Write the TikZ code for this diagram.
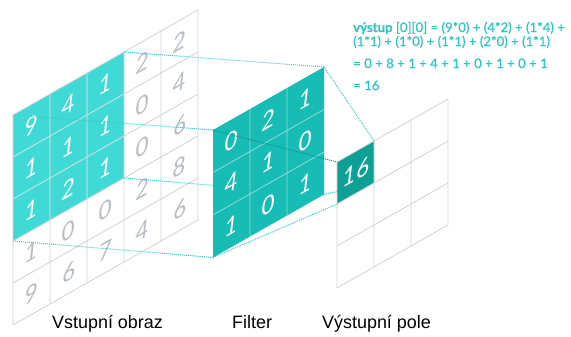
\documentclass[tikz,border=0pt]{standalone}
\usepackage{fontspec}
\setmainfont{Liberation Sans}
\newfontfamily\numfont{Lato}
\newfontfamily\formfont[FakeBold=0.6]{Lato}
\definecolor{inteal}{HTML}{3FDAD5}
\definecolor{filteal}{HTML}{17BDB5}
\definecolor{outteal}{HTML}{0E9F95}
\definecolor{gridgrey}{HTML}{CED3D8}
\definecolor{digitgrey}{HTML}{B8BEC4}
\definecolor{dotteal}{HTML}{3CCBCB}
\definecolor{dotdark}{HTML}{0E8F88}
\definecolor{txtteal}{HTML}{2EC6C0}
\definecolor{filline}{HTML}{8ADCD6}
\definecolor{inline}{HTML}{A8E6E3}
\tikzset{
  gridline/.style={draw=gridgrey, line width=0.8bp},
  filgrid/.style={draw=filline, line width=0.8bp},
  ingrid/.style={draw=inline, line width=0.8bp},
  dots/.style={draw=dotteal, densely dotted, line width=1bp},
  digit/.style={font=\numfont\itshape\fontsize{24}{24}\selectfont, inner sep=0pt},
  formula/.style={font=\formfont\fontsize{13.2}{15}\selectfont, text=txtteal, anchor=base west, inner sep=0pt},
  caption/.style={font=\fontsize{18}{20}\selectfont, anchor=base west, inner sep=0pt}
}
\begin{document}
\begin{tikzpicture}[x=1bp,y=1bp]
\useasboundingbox (0,0) rectangle (571,336);
% ---------- input image ----------
\begin{scope}[shift={(13,221)}, yslant=0.5676, transform shape]
  \fill[inteal] (0,0) rectangle (111,-126);
  \draw[gridline, xstep=37, ystep=42] (0,-210) grid (185,0);
  \draw[ingrid] (37,0) -- (37,-126) (74,0) -- (74,-126)
                (0,-42) -- (111,-42) (0,-84) -- (111,-84);
  \coordinate (inTL) at (0,0);
  \coordinate (inTR) at (111,0);
  \coordinate (inBR) at (111,-126);
  \coordinate (inBL) at (0,-126);
  \foreach \row [count=\j from 0] in {{9,4,1,2,2},{1,1,1,0,4},{1,2,1,0,6},{1,0,0,2,8},{9,6,7,4,6}}{
    \foreach \d [count=\i from 0] in \row {
      \def\digcol{digitgrey}
      \ifnum\i<3 \ifnum\j<3 \def\digcol{white}\fi\fi
      \node[digit, text=\digcol] (in-\i-\j) at ({37*(\i+0.5)},{-42*(\j+0.5)}) {\d};
    }
  }
\end{scope}
% ---------- filter ----------
\begin{scope}[shift={(213,206)}, yslant=0.5676, transform shape]
  \coordinate (fTL) at (0,0);
  \coordinate (fTR) at (111,0);
  \coordinate (fBR) at (111,-127.5);
  \coordinate (fBL) at (0,-127.5);
\end{scope}
\draw[dots] (inTL) -- (fTL);
\draw[dots] (inTR) -- (fTR);
\draw[dots] (inBR) -- (fBR);
\draw[dots] (inBL) -- (fBL);
\begin{scope}[shift={(213,206)}, yslant=0.5676, transform shape]
  \fill[filteal] (0,0) rectangle (111,-127.5);
  \draw[filgrid] (37,0) -- (37,-127.5) (74,0) -- (74,-127.5)
                 (0,-42.5) -- (111,-42.5) (0,-85) -- (111,-85);
  \foreach \row [count=\j from 0] in {{0,2,1},{4,1,0},{1,0,1}}{
    \foreach \d [count=\i from 0] in \row {
      \node[digit, text=white] (f-\i-\j) at ({37*(\i+0.5)},{-42.5*(\j+0.5)}) {\d};
    }
  }
\end{scope}
% ---------- output ----------
\begin{scope}[shift={(337,174)}, yslant=0.5676, transform shape]
  \coordinate (oTL) at (0,0);
  \coordinate (oTR) at (37,0);
  \coordinate (oBR) at (37,-42);
  \coordinate (oBL) at (0,-42);
\end{scope}
\draw[dots] (fBR) -- (oBR);
\draw[dots] (fTR) -- (oTR);
\draw[dots] (fBL) -- (oBL);
\draw[dots, draw=dotdark] (fTL) -- (oTL);
\begin{scope}[shift={(337,174)}, yslant=0.5676, transform shape]
  \fill[outteal] (0,0) rectangle (37,-42);
  \draw[gridline, xstep=37, ystep=42] (0,-126) grid (111,0);
  \node[digit, text=white] (o16) at (18.5,-21) {16};
\end{scope}
% ---------- formula ----------
\node[formula] (f1) at (353,304) {\textbf{výstup} [0][0] = (9*0) + (4*2) + (1*4) +};
\node[formula] (f2) at (353,290) {(1*1) + (1*0) + (1*1) + (2*0) + (1*1)};
\node[formula] (f3) at (353,268) {= 0 + 8 + 1 + 4 + 1 + 0 + 1 + 0 + 1};
\node[formula] (f4) at (353,246) {= 16};
% ---------- captions ----------
\node[caption] (c1) at (52,8) {Vstupní obraz};
\node[caption] (c2) at (232,8) {Filter};
\node[caption] (c3) at (322,8) {Výstupní pole};
\end{tikzpicture}
\end{document}
